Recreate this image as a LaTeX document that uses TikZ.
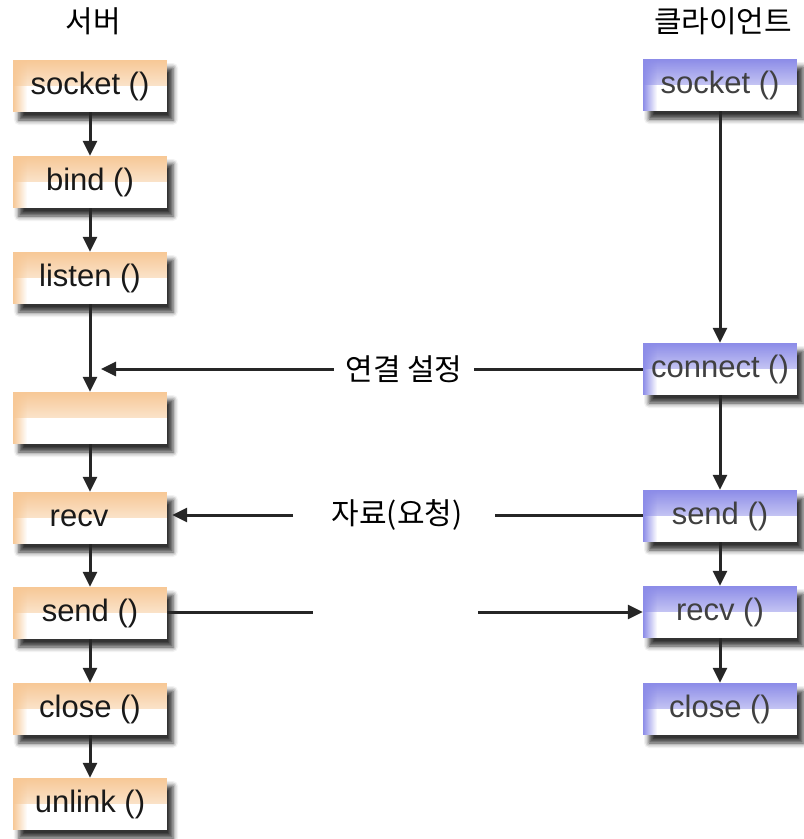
\documentclass[tikz,border=0pt]{standalone}
\usepackage{fontspec}
\setmainfont{Liberation Sans}
\newfontfamily\krfont{Noto Sans CJK KR}
\usetikzlibrary{arrows.meta,shadows.blur,fadings}
\definecolor{srvtint}{RGB}{247,200,150}
\definecolor{clitint}{RGB}{140,140,232}
\begin{document}
\begin{tikzpicture}[x=1pt,y=-1pt,
  box/.style={fill=white, minimum width=154pt, minimum height=52pt, inner sep=0pt,
    font=\fontsize{31}{36}\selectfont,
    blur shadow={shadow xshift=6pt, shadow yshift=-8pt, shadow blur radius=5pt, shadow opacity=80},
    path picture={
      \fill[#1, path fading=south] (path picture bounding box.north west)
        rectangle ([yshift=-26pt]path picture bounding box.north east);
      \fill[#1, path fading=east] (path picture bounding box.north west)
        rectangle ([xshift=14pt]path picture bounding box.south west);
    }},
  srv/.style={box=srvtint, text=black!90},
  cli/.style={box=clitint, text=black!75},
  head/.style={font=\krfont\fontsize{30}{36}\selectfont},
  lbl/.style={font=\krfont\fontsize{30}{36}\selectfont},
  link/.style={line width=3pt, draw=black!85},
  arr/.style={link, -{Triangle[length=15pt,width=14pt]}}]
\useasboundingbox (0,0) rectangle (804,839);

% column headings
\node[head] (h1) at (93,21) {서버};
\node[head] (h2) at (723,21) {클라이언트};

% server side
\node[srv] (s1) at (90,86)  {socket ()};
\node[srv] (s2) at (90,182) {bind ()};
\node[srv] (s3) at (90,278) {listen ()};
\node[srv] (s4) at (90,418) {};
\node[srv] (s5) at (90,518) {recv\kern22pt};
\node[srv] (s6) at (90,613) {send ()};
\node[srv] (s7) at (90,709) {close ()};
\node[srv] (s8) at (90,804) {unlink ()};

% client side
\node[cli] (c1) at (720,85)  {socket ()};
\node[cli] (c2) at (720,369) {connect ()};
\node[cli] (c3) at (720,516) {send ()};
\node[cli] (c4) at (720,612) {recv ()};
\node[cli] (c5) at (720,709) {close ()};

% vertical flow
\draw[arr] (s1) -- (s2);
\draw[arr] (s2) -- (s3);
\draw[arr] (s3) -- (s4);
\draw[arr] (s4) -- (s5);
\draw[arr] (s5) -- (s6);
\draw[arr] (s6) -- (s7);
\draw[arr] (s7) -- (s8);
\draw[arr] (c1) -- (c2);
\draw[arr] (c2) -- (c3);
\draw[arr] (c3) -- (c4);
\draw[arr] (c4) -- (c5);

% connection setup
\node[lbl] (t1) at (404,369) {연결 설정};
\coordinate (j1) at (101,369);
\draw[link] (c2.west) -- ([xshift=8pt]t1.east);
\draw[arr] ([xshift=-8pt]t1.west) -- (j1);

% request data
\node[lbl] (t2) at (397,515) {자료(요청)};
\coordinate (d1) at (495,515);
\coordinate (d2) at (293,515);
\draw[link] (c3.west |- d1) -- (d1);
\draw[arr] (d2) -- ([xshift=5pt]s5.east |- d2);

% reply data
\coordinate (e1) at (313,612);
\coordinate (e2) at (478,612);
\draw[link] (s6.east |- e1) -- (e1);
\draw[arr] (e2) -- (c4.west |- e2);
\end{tikzpicture}
\end{document}
